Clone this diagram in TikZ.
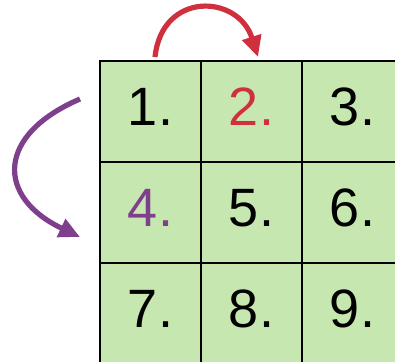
\documentclass[tikz,border=0pt]{standalone}
\usepackage{fontspec}
\usepackage{tikz}
\usetikzlibrary{arrows.meta}
\newfontfamily\numfont{Liberation Sans}
\definecolor{cellgreen}{HTML}{C6E8B0}
\definecolor{hopred}{HTML}{D0303E}
\definecolor{hoppurple}{HTML}{7E3F8C}
\tikzset{
  cell/.style={draw=black,line width=1.3pt,fill=cellgreen,minimum size=101pt,inner sep=0pt,
    text height=39pt,text depth=12pt,font=\numfont\fontsize{54}{60}\selectfont},
  hop/.style={line width=5.2pt,-{Triangle[length=21pt,width=19pt]}}
}
\begin{document}
\begin{tikzpicture}[x=1pt,y=-1pt]
\path[use as bounding box,clip] (0,0) rectangle (395,361);
\foreach \k/\c/\r/\col in {1/0/0/black,2/1/0/hopred,3/2/0/black,4/0/1/hoppurple,5/1/1/black,
  6/2/1/black,7/0/2/black,8/1/2/black,9/2/2/black}
  {\node[cell,text=\col] (c\k) at ({150.5+101*\c},{111.5+101*\r}) {\k.};}
% ends of the arrows
\coordinate (redA) at (155,57); \coordinate (redB) at (258,57);
\coordinate (purA) at (80,99); \coordinate (purB) at (80,237);
\draw[hop,hopred] (redA) .. controls (162,-9) and (238,-6) .. (redB);
\draw[hop,hoppurple] (purA) .. controls (-4,135) and (-4,197) .. (purB);
\end{tikzpicture}
\end{document}
